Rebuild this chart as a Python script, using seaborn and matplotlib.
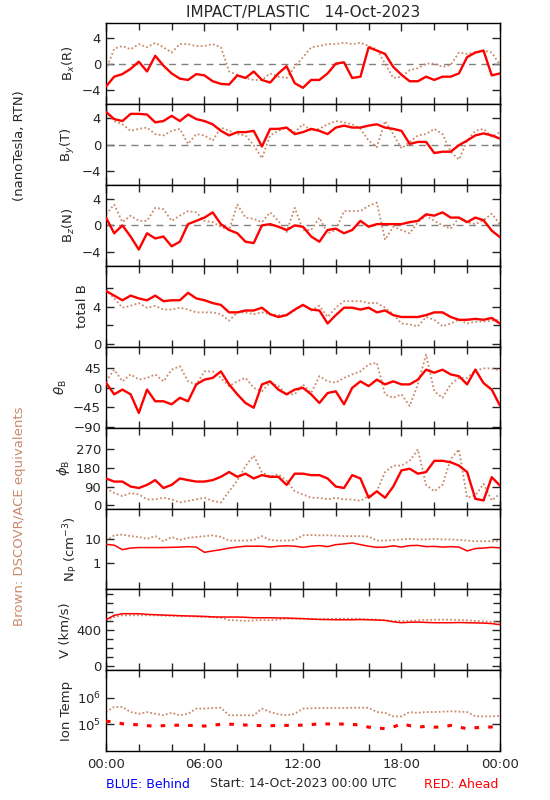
import numpy as np
import pandas as pd
import matplotlib
matplotlib.use('Agg')
import matplotlib.pyplot as plt
import matplotlib.ticker as mticker
import seaborn as sns

sns.set_style('ticks')
plt.rcParams['font.family'] = ['DejaVu Sans']

# time grid, half-hour steps over the day
hours = np.arange(0, 24.5, 0.5)

# red = STEREO Ahead, brown = DSCOVR/ACE equivalents
bx_red = [-3.5, -2.0, -1.6, -0.8, 0.3, -1.2, 1.2, -0.3, -1.5, -2.3, -2.5, -1.6, -1.8, -2.7, -3.1, -3.2,
          -1.8, -2.2, -1.2, -2.5, -2.9, -1.5, -0.4, -3.0, -3.7, -2.5, -2.5, -1.5, 0.0, 0.2, -2.2, -2.0,
          2.5, 2.0, 1.5, -0.5, -1.7, -2.7, -2.7, -2.0, -2.5, -2.0, -2.0, -1.5, 1.0, 1.7, 2.0, -1.8, -1.5]
bx_ace = [-1.0, 2.3, 2.7, 2.2, 3.0, 2.5, 3.2, 2.5, 1.7, 3.0, 3.0, 2.7, 2.7, 3.0, 2.5, -1.2,
          -1.7, -2.2, -2.5, -2.5, -1.5, -2.0, -2.2, -0.5, 1.0, 2.5, 2.7, 3.0, 3.0, 3.2, 3.0, 3.2,
          2.7, 2.2, 0.0, -2.2, -2.0, -1.0, -0.7, 0.0, 0.0, -0.5, -0.2, 1.7, 1.5, 1.7, 2.0, 1.7, -0.2]
by_red = [5.0, 3.9, 3.6, 4.7, 4.7, 4.6, 3.4, 3.6, 4.4, 3.6, 4.6, 3.9, 3.6, 3.1, 2.1, 1.4,
          1.9, 1.9, 2.1, -0.3, 2.4, 2.4, 2.6, 1.6, 1.9, 2.4, 2.1, 1.6, 2.6, 2.9, 2.6, 2.6,
          2.9, 3.1, 2.6, 2.4, 2.1, 0.1, 0.4, 0.4, -1.3, -1.1, -1.1, -0.1, 0.6, 1.4, 1.7, 1.4, 0.9]
by_ace = [5.0, 3.6, 3.1, 2.1, 2.4, 2.6, 1.6, 1.4, 2.1, 2.4, 0.1, 1.6, 1.4, 0.6, 2.6, 2.1,
          1.6, 1.4, -0.1, -2.1, 1.4, 2.1, 2.6, 1.9, 3.1, 2.1, 2.4, 3.1, 3.6, 3.4, 3.1, 2.4,
          0.6, -0.4, 3.6, 1.6, -0.6, 0.4, 1.4, 1.6, 2.4, 1.6, -1.1, -2.3, 0.6, 2.1, 2.4, 1.2, 1.9]
bz_red = [1.2, -1.2, 0.0, -1.7, -3.7, -1.2, -2.0, -1.7, -3.2, -2.5, 0.2, 0.7, 1.2, 2.0, 0.2, -0.7,
          -1.2, -2.5, -2.7, 0.0, 0.2, -0.2, -0.7, 0.0, -0.2, -1.7, -2.5, -0.7, -0.5, -1.2, -0.7, 0.7,
          -0.2, 0.2, 0.2, 0.2, 0.2, 0.5, 0.7, 1.7, 1.5, 2.0, 1.2, 1.2, 0.5, 1.2, 0.8, -0.8, -1.8]
bz_ace = [1.7, 3.2, 0.5, 1.5, 0.7, 0.7, 2.7, 2.5, 0.7, 1.5, 2.2, 2.0, 0.7, 0.5, -0.2, -0.7,
          3.2, 1.2, 1.0, 0.5, 2.0, 0.7, -1.0, 2.7, -0.7, -0.7, 1.2, -1.2, -0.7, 2.2, 2.2, 2.2,
          3.0, 3.5, -2.2, -0.2, -0.7, -1.2, 0.5, 1.5, 0.7, 0.0, -0.5, 1.2, 0.5, 0.2, 0.8, 1.8, 0.2]
btot_red = [5.7, 5.2, 4.7, 5.2, 4.9, 4.7, 5.2, 4.6, 4.7, 4.7, 5.5, 4.9, 4.7, 4.4, 4.2, 3.4,
            3.4, 3.6, 3.6, 3.9, 3.2, 2.9, 3.1, 3.7, 4.2, 3.7, 3.6, 2.2, 3.1, 3.9, 3.9, 3.7,
            3.9, 3.4, 3.6, 3.1, 2.9, 2.9, 2.9, 3.1, 3.4, 3.4, 2.9, 2.6, 2.6, 2.7, 2.6, 2.8, 2.2]
btot_ace = [5.9, 4.9, 3.9, 4.1, 4.4, 3.9, 4.1, 3.7, 3.7, 3.9, 3.7, 3.4, 3.4, 3.4, 3.2, 2.5,
            3.4, 3.4, 3.2, 3.4, 3.2, 3.1, 3.1, 3.6, 4.2, 3.6, 4.1, 2.9, 3.9, 4.6, 4.6, 4.6,
            4.4, 4.4, 3.9, 3.2, 2.2, 2.1, 1.9, 2.9, 2.6, 1.9, 2.2, 2.6, 2.2, 2.4, 2.4, 2.5, 2.6]
theta_red = [12, -15, -4, -15, -58, -4, -31, -31, -38, -23, -31, 8, 19, 23, 38, 8,
             -15, -35, -46, 8, 15, -4, -15, -4, 0, -15, -35, -12, -8, -38, 0, 15,
             4, 19, 8, 15, 8, 8, 19, 42, 35, 42, 31, 27, 8, 42, 11, -4, -41]
theta_ace = [15, 42, 15, 31, 19, 23, 31, 15, 42, 50, 15, 8, 38, 38, 23, 4,
             15, 23, 0, -8, 12, 4, -15, -15, 8, -12, 27, 15, 12, 23, 31, 38,
             54, 58, -15, -23, -15, -42, 8, 77, -8, -23, 8, 23, 23, 40, 45, 45, 40]
phi_red = [130, 115, 115, 91, 84, 99, 122, 84, 99, 130, 122, 115, 115, 122, 138, 161,
           138, 153, 130, 146, 138, 138, 99, 153, 153, 146, 146, 130, 91, 84, 146, 130,
           37, 68, 37, 91, 169, 177, 153, 161, 215, 215, 208, 192, 161, 32, 24, 136, 96]
phi_ace = [84, 60, 45, 60, 53, 29, 29, 37, 29, 14, 22, 29, 37, 22, 14, 68,
           120, 190, 240, 160, 140, 150, 120, 68, 53, 37, 37, 29, 37, 29, 29, 22,
           45, 68, 161, 192, 192, 215, 270, 99, 68, 99, 223, 270, 37, 48, 104, 24, 56]
np_red = [6.0, 5.5, 3.6, 4.2, 4.4, 4.4, 4.4, 4.4, 4.5, 4.6, 4.8, 4.6, 2.8, 3.2, 3.6, 4.2,
          4.6, 5.0, 5.0, 5.0, 4.6, 5.0, 5.2, 5.0, 4.5, 5.0, 5.3, 4.8, 5.8, 6.2, 6.8, 5.8,
          5.0, 4.5, 4.6, 5.2, 4.6, 5.3, 5.4, 4.8, 4.9, 4.6, 4.8, 4.6, 3.2, 4.0, 4.2, 4.5, 4.3]
np_ace = [8.5, 14, 15, 13, 12, 10, 13, 8, 12, 9, 11, 12, 13, 14, 12, 8.5,
          8.5, 8.5, 9, 13, 9, 8.5, 8.5, 9, 14, 14.5, 14, 14, 13.5, 13, 13, 13,
          12.5, 8.5, 8.5, 9, 9.5, 10, 9.5, 9.5, 10, 9.5, 9.5, 9, 8.5, 8, 8, 8, 8]
v_red = [518, 567, 585, 585, 585, 578, 574, 570, 567, 563, 560, 558, 555, 550, 548, 548,
         548, 545, 540, 540, 540, 538, 537, 533, 530, 525, 522, 520, 518, 518, 518, 520,
         518, 515, 511, 495, 485, 490, 492, 488, 485, 485, 485, 487, 485, 483, 481, 475, 463]
v_ace = [511, 548, 567, 567, 567, 567, 567, 563, 560, 558, 556, 552, 548, 545, 540, 515,
         511, 505, 511, 515, 511, 520, 530, 530, 530, 528, 522, 526, 530, 530, 530, 528,
         522, 520, 511, 505, 503, 505, 511, 515, 518, 518, 518, 515, 511, 505, 500, 495, 485]
temp_red = [1.33e5, 1.22e5, 1.06e5, 1.0e5, 9.7e4, 9.0e4, 8.6e4, 9.0e4, 9.2e4, 9.4e4, 9.2e4, 9.0e4,
            8.7e4, 9.5e4, 1.0e5, 1.02e5, 1.0e5, 9.5e4, 9.2e4, 9.0e4, 8.9e4, 9.2e4, 9.2e4, 9.3e4,
            9.4e4, 9.8e4, 1.06e5, 1.04e5, 1.06e5, 1.02e5, 1.0e5, 9.5e4, 7.9e4, 7.5e4, 6.9e4, 8.0e4,
            1.06e5, 9.0e4, 7.9e4, 8.5e4, 7.9e4, 8.0e4, 9.2e4, 8.0e4, 6.9e4, 7.5e4, 7.9e4, 8.0e4, 6.9e4]
temp_ace = [2.9e5, 4.5e5, 4.5e5, 2.9e5, 2.5e5, 2.9e5, 2.5e5, 2.2e5, 2.7e5, 2.2e5, 2.5e5, 3.9e5,
            3.9e5, 4.1e5, 4.2e5, 2.2e5, 2.2e5, 2.2e5, 2.2e5, 3.9e5, 2.9e5, 2.4e5, 2.2e5, 2.5e5,
            3.9e5, 4.0e5, 4.1e5, 4.1e5, 4.1e5, 4.1e5, 4.2e5, 4.2e5, 4.2e5, 2.9e5, 2.7e5, 2.0e5,
            2.0e5, 2.9e5, 2.7e5, 2.9e5, 2.9e5, 3.0e5, 3.1e5, 3.0e5, 2.9e5, 2.0e5, 2.0e5, 2.0e5, 2.1e5]

RED = '#FF0000'
BROWN = '#C98A6C'
FS = 9.5

panels = [
    ('B$_x$(R)', bx_red, bx_ace, (-6.2, 6.2), [-4, 0, 4], None, False),
    ('B$_y$(T)', by_red, by_ace, (-6.2, 6.2), [-4, 0, 4], None, False),
    ('B$_z$(N)', bz_red, bz_ace, (-6.2, 6.2), [-4, 0, 4], None, False),
    ('total B', btot_red, btot_ace, (-0.3, 8.4), [0, 4], [2, 6], False),
    (r'$\theta_{\rm B}$', theta_red, theta_ace, (-92, 95), [-90, -45, 0, 45], None, False),
    (r'$\phi_{\rm B}$', phi_red, phi_ace, (-15, 375), [0, 90, 180, 270], None, False),
    ('N$_{\\rm P}$ (cm$^{-3}$)', np_red, np_ace, (10 ** -1.08, 10 ** 2.25), [1, 10], None, True),
    ('V (km/s)', v_red, v_ace, (-44, 855), [0, 400], [100, 200, 300, 500, 600, 700, 800], False),
    ('Ion Temp', temp_red, temp_ace, (1e4, 1.05e7), [1e5, 1e6], None, True),
]

fig, axes = plt.subplots(9, 1, figsize=(5.5, 8), dpi=100, sharex=True)
fig.subplots_adjust(left=0.1927, right=0.909, top=0.971, bottom=0.061, hspace=0)

for i, (ax, (label, red, ace, ylim, ticks, minor, logy)) in enumerate(zip(axes, panels)):
    df = pd.DataFrame({'hour': hours, 'red': red, 'ace': ace})
    if i < 3:
        ax.axhline(0, color='#808080', lw=1, ls=(0, (5, 4)), zorder=1)
    if i == 8:
        # ion temperature is shown as sparse dashes
        sns.lineplot(data=df, x='hour', y='ace', ax=ax, color=BROWN, lw=1.3,
                     ls=(0, (1, 1.2)), estimator=None, zorder=2)
        sns.lineplot(data=df, x='hour', y='red', ax=ax, color=RED, lw=2.2,
                     ls=(0, (1.5, 3)), estimator=None, zorder=3)
    elif i in (6, 7):
        sns.lineplot(data=df, x='hour', y='ace', ax=ax, color=BROWN, lw=1.3,
                     ls=(0, (1, 1.2)), estimator=None, zorder=2)
        sns.lineplot(data=df, x='hour', y='red', ax=ax, color=RED, lw=1.1,
                     estimator=None, zorder=3)
    else:
        sns.lineplot(data=df, x='hour', y='ace', ax=ax, color=BROWN, lw=1.3,
                     ls=(0, (1, 1.3)), estimator=None, zorder=2)
        sns.lineplot(data=df, x='hour', y='red', ax=ax, color=RED, lw=1.7,
                     estimator=None, zorder=3)

    if logy:
        ax.set_yscale('log')
        ax.yaxis.set_major_formatter(mticker.FuncFormatter(
            lambda v, p: '10$^{%d}$' % round(np.log10(v)) if v > 20 else '%g' % v))
    ax.set_ylim(*ylim)
    ax.set_yticks(ticks)
    if minor is not None:
        ax.set_yticks(minor, minor=True)
    elif not logy:
        ax.yaxis.set_minor_locator(mticker.NullLocator())
    if i == 8:
        ax.yaxis.set_minor_locator(mticker.NullLocator())
    ax.set_ylabel(label, fontsize=FS, labelpad=3)
    ax.set_xlabel('')
    ax.set_xlim(0, 24)
    ax.xaxis.set_major_locator(mticker.MultipleLocator(6))
    ax.xaxis.set_minor_locator(mticker.MultipleLocator(2))
    ax.tick_params(which='both', direction='in', top=True, right=True, labelsize=FS, width=1)
    ax.tick_params(which='major', length=6)
    ax.tick_params(which='minor', length=5)
    for sp in ax.spines.values():
        sp.set_linewidth(1)
        sp.set_color('black')

axes[-1].set_xticks([0, 6, 12, 18, 24])
axes[-1].set_xticklabels(['00:00', '06:00', '12:00', '18:00', '00:00'])
axes[-1].tick_params(axis='x', pad=5)

fig.text(0.551, 0.985, 'IMPACT/PLASTIC   14-Oct-2023', ha='center', va='center', fontsize=11)
fig.text(0.036, 0.818, '(nanoTesla, RTN)', rotation=90, ha='center', va='center', fontsize=FS)
fig.text(0.036, 0.355, 'Brown: DSCOVR/ACE equivalents', rotation=90, ha='center', va='center',
         fontsize=FS, color=BROWN)
fig.text(0.1927, 0.019, 'BLUE: Behind', ha='left', va='center', fontsize=9, color='#0000FF')
fig.text(0.551, 0.021, 'Start: 14-Oct-2023 00:00 UTC', ha='center', va='center', fontsize=9)
fig.text(0.907, 0.019, 'RED: Ahead', ha='right', va='center', fontsize=9, color=RED)

fig.savefig('out.png', dpi=100)
